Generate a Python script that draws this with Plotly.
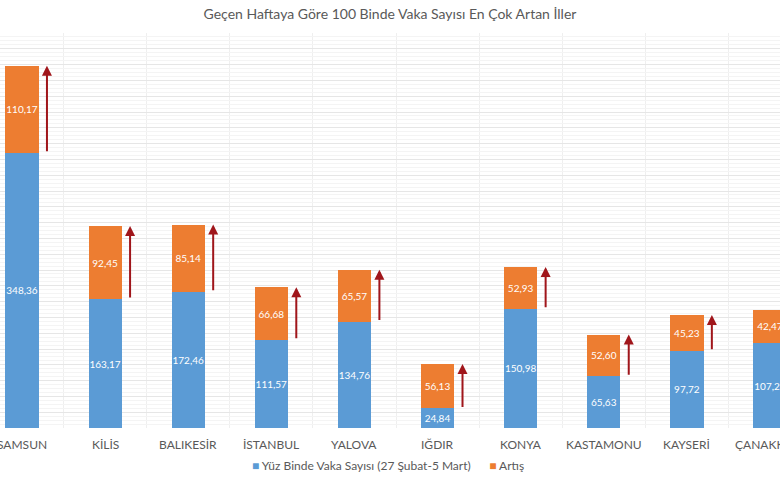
import plotly.graph_objects as go

iller = ["SAMSUN", "KİLİS", "BALIKESİR", "İSTANBUL", "YALOVA",
         "IĞDIR", "KONYA", "KASTAMONU", "KAYSERİ", "ÇANAKKALE"]
vaka = [348.36, 163.17, 172.46, 111.57, 134.76, 24.84, 150.98, 65.63, 97.72, 107.29]
artis = [110.17, 92.45, 85.14, 66.68, 65.57, 56.13, 52.93, 52.60, 45.23, 42.47]
seri_adlari = ["Yüz Binde Vaka Sayısı (27 Şubat-5 Mart)", "Artış"]

BLUE = "#5B9BD5"
ORANGE = "#ED7D31"
ARROW = "#A0161B"
GRAY = "#595959"


def tr(v):
    return f"{v:.2f}".replace(".", ",")


x = list(range(len(iller)))

fig = go.Figure()
fig.add_trace(go.Bar(
    x=x, y=vaka, name=seri_adlari[0],
    marker=dict(color=BLUE, line=dict(width=0)),
    text=[tr(v) for v in vaka], textposition="inside", insidetextanchor="middle",
    textfont=dict(color="white", size=10), textangle=0, constraintext="none",
))
fig.add_trace(go.Bar(
    x=x, y=artis, name=seri_adlari[1],
    marker=dict(color=ORANGE, line=dict(width=0)),
    text=[tr(v) for v in artis], textposition="inside", insidetextanchor="middle",
    textfont=dict(color="white", size=10), textangle=0, constraintext="none",
))

# red up arrows next to each bar, spanning the increase
for i in x:
    fig.add_annotation(
        x=i + 0.3, y=vaka[i] + artis[i], ax=i + 0.3, ay=vaka[i],
        xref="x", yref="y", axref="x", ayref="y",
        text="", showarrow=True, arrowhead=2, arrowsize=1,
        arrowwidth=2, arrowcolor=ARROW,
    )

# category names as annotations so the cut-off ends still show
for i, name in enumerate(iller):
    fig.add_annotation(
        x=i, y=0, xref="x", yref="y", yshift=-16, text=name, showarrow=False,
        font=dict(size=12, color=GRAY), xanchor="center", yanchor="middle",
    )

# compact Excel-style legend
legend_text = (f"<span style='color:{BLUE}'>■</span> {seri_adlari[0]}"
               + "&nbsp;" * 6
               + f"<span style='color:{ORANGE}'>■</span> {seri_adlari[1]}")
fig.add_annotation(
    x=0.4968, y=-0.0962, xref="paper", yref="paper", text=legend_text,
    showarrow=False, xanchor="center", yanchor="middle",
    font=dict(size=12, color=GRAY),
)

fig.update_layout(
    width=780, height=480,
    barmode="stack", bargap=0.6,
    paper_bgcolor="white", plot_bgcolor="white",
    font=dict(family="Lato, 'Open Sans', sans-serif", color=GRAY, size=11),
    title=dict(text="Geçen Haftaya Göre 100 Binde Vaka Sayısı En Çok Artan İller",
               x=0.5, xanchor="center", y=0.971, yanchor="middle",
               font=dict(size=14, color=GRAY)),
    margin=dict(l=0, r=0, t=33, b=52),
    showlegend=False,
    xaxis=dict(
        range=[-0.265, 9.12], showticklabels=False, automargin=False,
        showgrid=False, zeroline=False, showline=False, ticks="",
        minor=dict(dtick=0.5, tick0=0, showgrid=True, gridcolor="#EFEFEF", gridwidth=1),
    ),
    yaxis=dict(
        range=[0, 500], showticklabels=False, zeroline=False, automargin=False,
        showgrid=True, dtick=20, gridcolor="#E6E6E6", gridwidth=1,
        minor=dict(dtick=5, showgrid=True, gridcolor="#F4F4F4", gridwidth=1),
    ),
)

# drop the browser's default 8px body margin so the chart fills the window
fig.write_html("out.html", config={"displayModeBar": False},
               post_script="document.body.style.margin = '0px';")
